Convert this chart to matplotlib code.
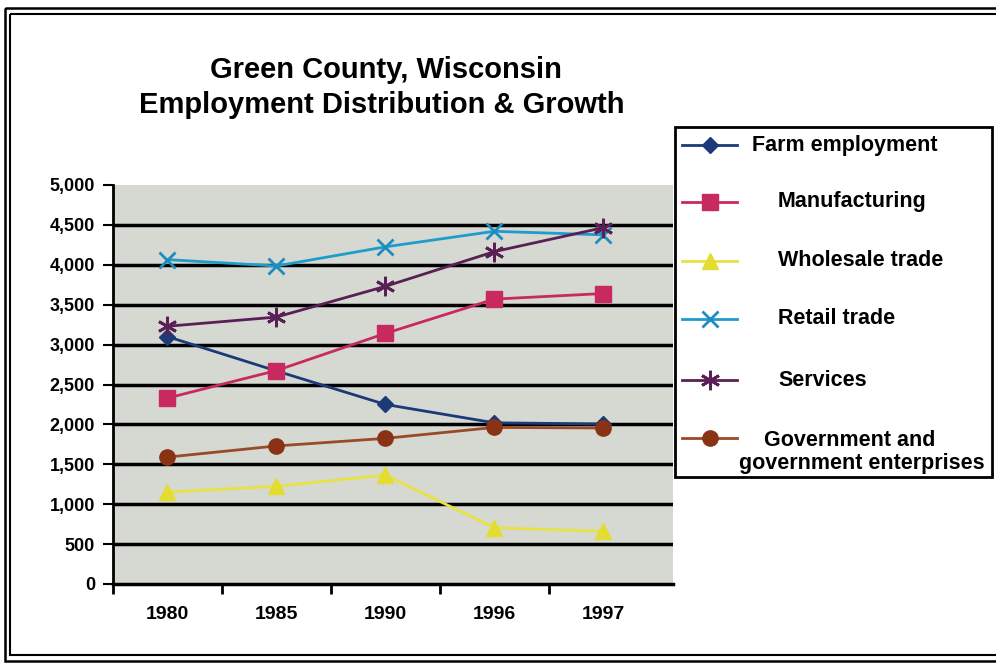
import matplotlib
matplotlib.use("Agg")
import matplotlib.pyplot as plt
from matplotlib.lines import Line2D
from matplotlib.patches import Rectangle

# ---- data ----
years = ["1980", "1985", "1990", "1996", "1997"]
farm = [3100, 2670, 2250, 2020, 2005]
manufacturing = [2330, 2675, 3140, 3570, 3640]
wholesale = [1150, 1225, 1365, 705, 660]
retail = [4065, 3985, 4225, 4420, 4375]
services = [3230, 3345, 3730, 4165, 4465]
government = [1590, 1730, 1825, 1962, 1955]
yticks = [0, 500, 1000, 1500, 2000, 2500, 3000, 3500, 4000, 4500, 5000]
series_names = ["Farm employment", "Manufacturing", "Wholesale trade",
                "Retail trade", "Services", "Government and\ngovernment enterprises"]

W, H = 996, 665
plt.rcParams["font.family"] = ["Liberation Sans", "DejaVu Sans"]
plt.rcParams["font.weight"] = "bold"
fig = plt.figure(figsize=(W / 100, H / 100), dpi=100)
fig.patch.set_facecolor("white")

def fx(px):
    return px / W

def fy(py):
    return 1 - py / H

# plot area in pixels: left 113, right 673, top 185, bottom 584
ax = fig.add_axes([fx(113), fy(584), fx(673) - fx(113), fy(185) - fy(584)])
ax.set_facecolor("#d5d9d1")

styles = [
    dict(color="#1c3a78", marker="D", ms=8, mfc="#1c3a78", mec="#1c3a78"),
    dict(color="#c82a60", marker="s", ms=11, mfc="#c82a60", mec="#c82a60"),
    dict(color="#e8e242", marker="^", ms=11, mfc="#e4dc30", mec="#e4dc30"),
    dict(color="#1e9ccc", marker="x", ms=12, mew=2, mec="#1e8cc0"),
    dict(color="#5a1f55", marker=(6, 2, 0), ms=14, mew=2, mec="#5a1f55"),
    dict(color="#9a4a28", marker="o", ms=11, mfc="#8a3214", mec="#8a3214"),
]
data = [farm, manufacturing, wholesale, retail, services, government]
x = list(range(len(years)))
for vals, st in zip(data, styles):
    ax.plot(x, vals, lw=2, zorder=3, clip_on=False, **st)

ax.set_xlim(-0.5, 4.64)
ax.set_ylim(0, 5000)
ax.set_yticks(yticks)
ax.set_yticklabels([f"{v:,}" for v in yticks], fontsize=13, fontweight="bold")
ax.set_xticks(x)
ax.set_xticklabels(years, fontsize=14, fontweight="bold")
ax.set_xticks([-0.5, 0.5, 1.5, 2.5, 3.5], minor=True)
ax.tick_params(axis="x", which="major", length=0, pad=16)
ax.tick_params(axis="x", which="minor", length=7, width=2, direction="out")
ax.tick_params(axis="y", length=7, width=1.5, direction="out", pad=6)
ax.grid(axis="y", color="black", lw=2.5, zorder=1)
ax.set_axisbelow(True)
gl = ax.yaxis.get_gridlines()
gl[-1].set_visible(False)
gl[0].set_visible(False)
for s in ["top", "right"]:
    ax.spines[s].set_visible(False)
ax.spines["left"].set_linewidth(2)
ax.spines["bottom"].set_linewidth(2.5)

# ---- overlay in pixel coords for title, legend, frame ----
ov = fig.add_axes([0, 0, 1, 1], zorder=5)
ov.set_xlim(0, W)
ov.set_ylim(H, 0)
ov.axis("off")
ov.patch.set_visible(False)

ov.text(386, 78, "Green County, Wisconsin", ha="center", va="baseline",
        fontsize=21, fontweight="bold")
ov.text(382, 113, "Employment Distribution & Growth", ha="center", va="baseline",
        fontsize=21, fontweight="bold")

# legend box
ov.add_patch(Rectangle((675, 127), 317, 350, fill=True, facecolor="white",
                       edgecolor="black", lw=2))
leg_y = [145, 202, 261, 319, 380, 438]
text_x = [752, 778, 778, 778, 778, None]
for i, (st, name) in enumerate(zip(styles, series_names)):
    yy = leg_y[i]
    ov.add_line(Line2D([682, 709.5, 737], [yy, yy, yy], lw=2, markevery=[1], **st))
    if text_x[i] is not None:
        ov.text(text_x[i], yy, name, ha="left", va="center", fontsize=15.5,
                fontweight="bold")
    else:
        l1, l2 = name.split("\n")
        ov.text(850, 440, l1, ha="center", va="center", fontsize=15.5, fontweight="bold")
        ov.text(862, 464, l2, ha="center", va="center", fontsize=15.5, fontweight="bold")

# double frame
ov.add_patch(Rectangle((5, 8), 1000, 653, fill=False, edgecolor="black", lw=1.8))
ov.add_patch(Rectangle((10, 14), 990, 641, fill=False, edgecolor="black", lw=1.5))

fig.savefig("out.png", dpi=100)
